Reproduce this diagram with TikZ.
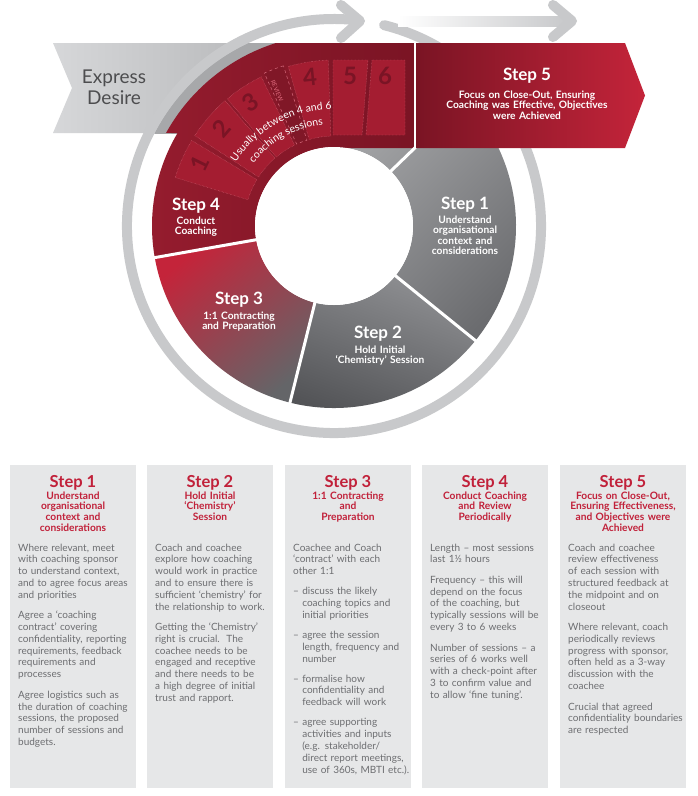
\documentclass[tikz,border=0pt]{standalone}
\usepackage{fontspec}
\setmainfont{Lato}
\usetikzlibrary{calc,decorations.text}
\definecolor{ringgray}{HTML}{C8C9CB}
\definecolor{stripgray}{HTML}{A7A8AA}
\definecolor{bannerL}{HTML}{D6D7D9}
\definecolor{bannerR}{HTML}{B2B3B5}
\definecolor{boxgray}{HTML}{E6E7E8}
\definecolor{bodytext}{HTML}{6D6E71}
\definecolor{headred}{HTML}{C1213A}
\definecolor{darkred}{HTML}{7A1424}
\definecolor{leftred}{HTML}{951C2E}
\definecolor{sessred}{HTML}{A41D31}
\definecolor{revred}{HTML}{801727}
\definecolor{numred}{HTML}{7A1425}
\definecolor{brightred}{HTML}{C4243A}
\definecolor{pinkline}{HTML}{D66B7C}
\definecolor{revtext}{HTML}{E0697C}
\definecolor{expgray}{HTML}{4D4D4F}
\definecolor{sonelight}{HTML}{ABACAE}
\definecolor{sonedark}{HTML}{6B6C6F}
\definecolor{stwolight}{HTML}{8E8F92}
\definecolor{stwodark}{HTML}{535457}
\definecolor{sthreegray}{HTML}{646568}
\definecolor{sthreemid}{HTML}{A52B3C}
\tikzset{
  wsec/.style n args={4}{insert path={($(C)+(#1:#3pt)$) arc[start angle=#1,end angle=#2,radius=#3pt] -- ($(C)+(#2:#4pt)$) arc[start angle=#2,end angle=#1,radius=#4pt] -- cycle}},
  ringst/.style={draw=ringgray, line width=10pt, line cap=round, line join=round},
  sepline/.style={draw=white, line width=3pt},
  sessbox/.style={fill=sessred, draw=pinkline, line width=0.4pt, densely dotted},
  numlbl/.style={text=numred, font=\bfseries\fontsize{24}{24}\selectfont, inner sep=0pt},
  steplbl/.style={text=white, font=\bfseries\fontsize{17}{18}\selectfont, anchor=base, inner sep=0pt},
  stepsub/.style={text=white, font=\bfseries\fontsize{10.2}{10.6}\selectfont, align=center, anchor=base, inner sep=0pt, text width=200pt},
  colbox/.style={fill=boxgray, inner sep=0pt, minimum width=126pt, minimum height=323pt, anchor=north west},
  colhead/.style={text=headred, font=\bfseries\fontsize{16.5}{18}\selectfont, anchor=base, inner sep=0pt},
  colsub/.style={text=headred, font=\bfseries\fontsize{10.2}{10.7}\selectfont, align=center, anchor=base, inner sep=0pt, text width=124pt},
  colbody/.style={text=bodytext, font=\fontsize{10}{11.8}\selectfont, align=left, anchor=base west, inner sep=0pt, text width=135pt},
}
\begin{document}
\begin{tikzpicture}[x=1pt,y=1pt]
\useasboundingbox (0,0) rectangle (698,-796);
\fill[white] (0,0) rectangle (698,-796);
\coordinate (C) at (334,-226);

% Express Desire banner
\shade[left color=bannerL, right color=bannerR] (53,-43) -- (300,-43) -- (300,-133) -- (53,-133) -- (72,-88) -- cycle;
\begin{scope}
  \clip (53,-43) rectangle (300,-133);
  \fill[stripgray] (C) circle[radius=202pt];
\end{scope}
\node[text=expgray, font=\fontsize{19}{21}\selectfont, align=center, text width=100pt, anchor=base, inner sep=0pt] (express) at (114,-83) {Express\\Desire};

% outer ring with arrow
\draw[ringst] ($(C)+(76:207pt)$) arc[start angle=76, end angle=-277, radius=207pt];
\draw[ringst] (341,-5) -- (360,-21) -- (341,-38);
% top straight arrow
\shade[left color=white, right color=ringgray] (398,-16) rectangle (566,-26);
\draw[ringst] (553,-5) -- (572,-21) -- (553,-37);

% grey sectors
\shade[top color=sonelight, bottom color=sonedark, shading angle=45, wsec={-39}{90}{182}{79}];
\shade[top color=stwolight, bottom color=stwodark, shading angle=-20, wsec={-104}{-39}{182}{79}];
\shade[top color=brightred, middle color=sthreemid, bottom color=sthreegray, shading angle=40, wsec={190}{256}{182}{79}];

% Step 4 red region
\shade[left color=leftred, right color=darkred]
  ($(C)+(190:182pt)$) arc[start angle=190, end angle=149.3, radius=182pt]
  -- ($(C)+(151:192pt)$) arc[start angle=151, end angle=107.6, radius=192pt]
  -- (414,-43) -- (414,-148) -- (334,-148)
  -- ($(C)+(90:79pt)$) arc[start angle=90, end angle=190, radius=79pt] -- cycle;

% separators
\draw[sepline] ($(C)+(44:76pt)$) -- ($(C)+(44:186pt)$);
\draw[sepline] ($(C)+(-39:76pt)$) -- ($(C)+(-39:186pt)$);
\draw[sepline] ($(C)+(-104:76pt)$) -- ($(C)+(-104:186pt)$);
\draw[sepline] ($(C)+(190:76pt)$) -- ($(C)+(190:186pt)$);

% Step 5 arrow
\shade[left color=darkred, right color=brightred] (416,-43) -- (625,-43) -- (645,-95.5) -- (625,-148) -- (416,-148) -- cycle;
\draw[white, line width=1.5pt] (415,-43) -- (415,-148);

% inner white circle
\fill[white] (C) circle[radius=79pt];

% session boxes
\path[sessbox, wsec={149}{163}{166}{90}];
\path[sessbox, wsec={131}{147}{166}{90}];
\path[sessbox, wsec={116}{130}{166}{90}];
\path[fill=revred, draw=pinkline, line width=0.5pt, dashed, wsec={107.5}{114.5}{168}{90}];
\path[sessbox, wsec={92}{106}{166}{90}];
\path[sessbox] (333,-60) -- (368,-60) -- (362,-135) -- (333,-135) -- cycle;
\path[sessbox] (372,-60) -- (405,-60) -- (405,-135) -- (366,-135) -- cycle;

\node[numlbl, rotate=64] (n1) at (200,-163) {1};
\node[numlbl, rotate=49] (n2) at (221,-128) {2};
\node[numlbl, rotate=34] (n3) at (250,-102) {3};
\node[numlbl, rotate=6] (n4) at (310,-77) {4};
\node[numlbl] (n5) at (350,-76) {5};
\node[numlbl] (n6) at (385,-76) {6};
\node[text=revtext, font=\fontsize{6}{6}\selectfont, rotate=-67, inner sep=0pt] (rev) at (277,-91) {REVIEW};

\path[decorate, decoration={text along path, text align=center, text={|\fontsize{10.5}{12}\selectfont\color{white}|Usually between 4 and 6}}]
  ($(C)+(180:117pt)$) arc[start angle=180, end angle=58, radius=117pt];
\path[decorate, decoration={text along path, text align=center, text={|\fontsize{10.5}{12}\selectfont\color{white}|coaching sessions}}]
  ($(C)+(180:102pt)$) arc[start angle=180, end angle=58, radius=102pt];

% wheel labels
\node[steplbl] (w1) at (465,-209) {Step 1};
\node[stepsub] (w1s) at (465,-223) {Understand\\organisational\\context and\\considerations};
\node[steplbl] (w2) at (378,-338) {Step 2};
\node[stepsub] (w2s) at (380,-353) {Hold Initial\\‘Chemistry’ Session};
\node[steplbl] (w3) at (239,-304) {Step 3};
\node[stepsub] (w3s) at (239,-319) {1:1 Contracting\\and Preparation};
\node[steplbl] (w4) at (196,-210) {Step 4};
\node[stepsub] (w4s) at (196,-224) {Conduct\\Coaching};
\node[steplbl] (w5) at (527,-80) {Step 5};
\node[stepsub] (w5s) at (527,-98) {Focus on Close-Out, Ensuring\\Coaching was Effective, Objectives\\were Achieved};

% bottom columns
\node[colbox] (box1) at (10,-465) {};
\node[colbox] (box2) at (147,-465) {};
\node[colbox] (box3) at (285,-465) {};
\node[colbox] (box4) at (422,-465) {};
\node[colbox] (box5) at (560,-465) {};

\node[colhead] (h1) at (73,-487) {Step 1};
\node[colsub] (s1) at (73,-499) {Understand\\organisational\\context and\\considerations};
\node[colbody] (t1) at (18,-551) {Where relevant, meet\\with coaching sponsor\\to understand context,\\and to agree focus areas\\and priorities\\[8.7pt]Agree a ‘coaching\\contract’ covering\\confidentiality, reporting\\requirements, feedback\\requirements and\\processes\\[8.7pt]Agree logistics such as\\the duration of coaching\\sessions, the proposed\\number of sessions and\\budgets.};

\node[colhead] (h2) at (210,-487) {Step 2};
\node[colsub] (s2) at (210,-499) {Hold Initial\\‘Chemistry’\\Session};
\node[colbody] (t2) at (155,-551) {Coach and coachee\\explore how coaching\\would work in practice\\and to ensure there is\\sufficient ‘chemistry’ for\\the relationship to work.\\[8.7pt]Getting the ‘Chemistry’\\right is crucial.\ \ The\\coachee needs to be\\engaged and receptive\\and there needs to be\\a high degree of initial\\trust and rapport.};

\node[colhead] (h3) at (348,-487) {Step 3};
\node[colsub] (s3) at (348,-499) {1:1 Contracting\\and\\Preparation};
\node[colbody] (t3) at (293,-551) {Coachee and Coach\\‘contract’ with each\\other 1:1\\[8.3pt]– discuss the likely\\\hphantom{– }coaching topics and\\\hphantom{– }initial priorities\\[8.3pt]– agree the session\\\hphantom{– }length, frequency and\\\hphantom{– }number\\[8.3pt]– formalise how\\\hphantom{– }confidentiality and\\\hphantom{– }feedback will work\\[8.3pt]– agree supporting\\\hphantom{– }activities and inputs\\\hphantom{– }(e.g. stakeholder/\\\hphantom{– }direct report meetings,\\\hphantom{– }use of 360s, MBTI etc.).};

\node[colhead] (h4) at (485,-487) {Step 4};
\node[colsub] (s4) at (485,-499) {Conduct Coaching\\and Review\\Periodically};
\node[colbody] (t4) at (430,-551) {Length – most sessions\\last 1½ hours\\[8.7pt]Frequency – this will\\depend on the focus\\of the coaching, but\\typically sessions will be\\every 3 to 6 weeks\\[8.7pt]Number of sessions – a\\series of 6 works well\\with a check-point after\\3 to confirm value and\\to allow ‘fine tuning’.};

\node[colhead] (h5) at (623,-487) {Step 5};
\node[colsub] (s5) at (623,-499) {Focus on Close-Out,\\Ensuring Effectiveness,\\and Objectives were\\Achieved};
\node[colbody] (t5) at (568,-551) {Coach and coachee\\review effectiveness\\of each session with\\structured feedback at\\the midpoint and on\\closeout\\[8.7pt]Where relevant, coach\\periodically reviews\\progress with sponsor,\\often held as a 3-way\\discussion with the\\coachee\\[8.7pt]Crucial that agreed\\confidentiality boundaries\\are respected};
\end{tikzpicture}
\end{document}
